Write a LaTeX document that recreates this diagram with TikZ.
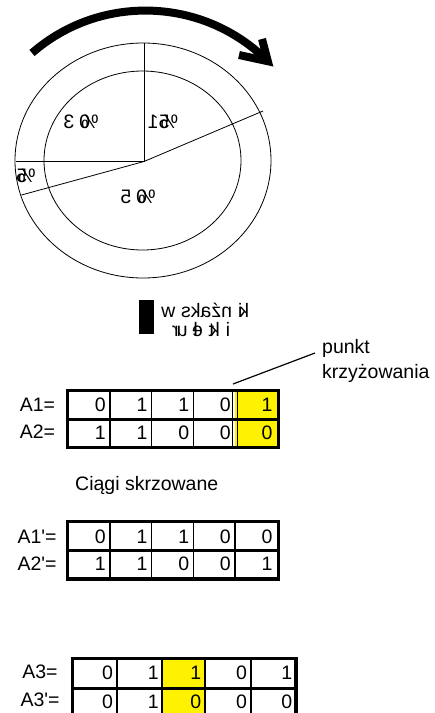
\documentclass[tikz,border=0pt]{standalone}
\usepackage{fontspec}
\setmainfont{Liberation Sans}[Ligatures=TeXOff]
\usepackage{graphicx}
% a glyph printed back to front
\newcommand\mg[1]{\reflectbox{#1}}
\begin{document}
\begin{tikzpicture}[x=1pt,y=-1pt,
  txt/.style={inner sep=0pt,font=\fontsize{19.5}{22}\selectfont},
  thinline/.style={line width=0.8pt},
  frame/.style={line width=3.5pt},
  midrule/.style={line width=3pt},
  colrule/.style={line width=1.4pt},
  hl/.style={fill=yellow}]
\useasboundingbox (0,0) rectangle (435,713);

% ---------- wheel ----------
\coordinate (c) at (144,161.5);
\draw[thinline] (143,160.5) ellipse [x radius=128, y radius=117.5];
\draw[thinline] (142.5,160.5) ellipse [x radius=98.5, y radius=89.5];
\coordinate (pTop) at (144,43);
\coordinate (pLeft) at (15.5,161.5);
\coordinate (pRight) at (263,111);
\coordinate (pLow) at (21.5,195);
\draw[thinline] (c) -- (pTop);
\draw[thinline] (c) -- (pLeft);
\draw[thinline] (c) -- (pRight);
\draw[thinline] (c) -- (pLow);

\node[txt] (s30) at (81,122) {\mg{3}\hspace{0.25em}\mg{0}\kern-0.45em\mg{\%}};
\node[txt] (s15) at (163,122) {\mg{1}\mg{5}\kern-0.45em\mg{\%}};
\node[txt] (s5) at (26,176) {\mg{5}\kern-0.45em\mg{\%}};
\node[txt] (s50) at (138,197) {\mg{5}\hspace{0.25em}\mg{0}\kern-0.45em\mg{\%}};

% rotation arrow
\coordinate (a0) at (32,53);
\draw[line width=8pt] (a0) arc[start angle=131, end angle=45, radius=173pt] coordinate (tip);
\coordinate (w1) at (239,55);
\coordinate (w2) at (262,39);
\draw[line width=8pt, miter limit=10] (w1) -- (tip) -- (w2);

% ---------- pointer ----------
\fill (139,300) rectangle (154,334);
\node[txt, anchor=base west] (l1) at (161,317) {\mg{w}\hspace{0.3em}\mg{s}\mg{k}\mg{a}\mg{ź}\mg{n}\hspace{0.3em}\mg{i}\kern-0.15em\mg{k}};
\node[txt, anchor=base west] (l2) at (172,336) {\mg{r}\kern-0.1em\mg{u}\hspace{0.3em}\mg{l}\kern-0.3em\mg{e}\hspace{0.3em}\mg{t}\kern-0.2em\mg{k}\hspace{0.3em}\mg{i}};

% ---------- crossover point ----------
\node[txt, anchor=base west] (pk1) at (322,353) {punkt};
\node[txt, anchor=base west] (pk2) at (322,378) {krzyżowania};
\coordinate (lead) at (233,384);
\draw[line width=1.2pt] (315,353) -- (lead);

% ---------- table A1 / A2 ----------
\fill[hl] (235,390.7) rectangle (278.3,447.3);
\foreach \x in {110,151.7,193.3,232.5}
  \draw[colrule] (\x,390.7) -- (\x,447.3);
\draw[colrule] (237.5,390.7) -- (237.5,447.3);
\draw[midrule] (67.7,419) -- (278.3,419);
\draw[frame] (67.7,390.7) rectangle (278.3,447.3);
\node[txt] (lA1) at (37.5,405) {A1=};
\node[txt] (lA2) at (37.5,432) {A2=};
\foreach \v [count=\i] in {0,1,1,0,1}
  \node[txt, anchor=east] (a1c\i) at ({67.7+41.7*\i-3.5},405) {\v};
\foreach \v [count=\i] in {1,1,0,0,0}
  \node[txt, anchor=east] (a2c\i) at ({67.7+41.7*\i-3.5},432.5) {\v};

% ---------- crossed strings ----------
\node[txt, anchor=base west] (tit) at (75,490) {Ciągi skrzowane};
\foreach \x in {110,151.7,193.3,235}
  \draw[colrule] (\x,521.7) -- (\x,579);
\draw[midrule] (67.7,550.7) -- (278.3,550.7);
\draw[frame] (67.7,521.7) rectangle (278.3,579);
\node[txt] (lB1) at (37,536.5) {A1'=};
\node[txt] (lB2) at (37,563.5) {A2'=};
\foreach \v [count=\i] in {0,1,1,0,0}
  \node[txt, anchor=east] (b1c\i) at ({67.7+41.7*\i-3.5},536.5) {\v};
\foreach \v [count=\i] in {1,1,0,0,1}
  \node[txt, anchor=east] (b2c\i) at ({67.7+41.7*\i-3.5},563.5) {\v};

% ---------- mutation ----------
\fill[hl] (162.3,658.5) rectangle (205,720);
\foreach \x in {116.7,162.3,205,250.7}
  \draw[line width=2pt] (\x,658.5) -- (\x,720);
\draw[midrule] (72.5,688) -- (296,688);
\draw[frame] (72.5,720) -- (72.5,658.5) -- (296,658.5) -- (296,720);
\node[txt] (lC1) at (40,672) {A3=};
\node[txt] (lC2) at (40,700) {A3'=};
\foreach \v/\r [count=\i] in {0/116.7,1/162.3,1/205,0/250.7,1/296}
  \node[txt, anchor=east] (c1c\i) at (\r-3.5,673) {\v};
\foreach \v/\r [count=\i] in {0/116.7,1/162.3,0/205,0/250.7,0/296}
  \node[txt, anchor=east] (c2c\i) at (\r-3.5,702) {\v};
\end{tikzpicture}
\end{document}
